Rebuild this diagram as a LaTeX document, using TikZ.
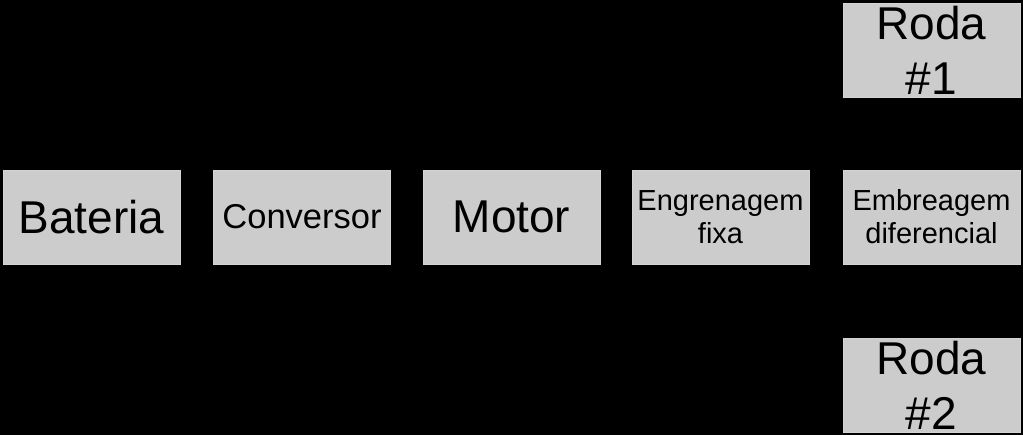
\documentclass[tikz,border=0pt]{standalone}
\usepackage{fontspec}
\setmainfont{Liberation Sans}
\begin{document}
\begin{tikzpicture}[x=1pt,y=-1pt,
  blk/.style={fill=boxgray,draw=boxedge,line width=0.8pt,minimum width=177pt,minimum height=94pt,inner sep=0pt,align=center,text=black},
  big/.style={font=\fontsize{46}{55}\selectfont},
  mid/.style={font=\fontsize{34.5}{40}\selectfont},
  small/.style={font=\fontsize{29}{33}\selectfont}]
\definecolor{boxgray}{HTML}{CCCCCC}
\definecolor{boxedge}{HTML}{D4D4D4}
\fill[black] (0,0) rectangle (1023,435);
\useasboundingbox (0,0) rectangle (1023,435);
\node[blk,big] (bat) at (91.5,217) {Bateria};
\node[blk,mid] (conv) at (302,217) {Conversor};
\node[blk,big] (mot) at (511.5,217) {Motor};
\node[blk,small] (eng) at (720.5,217) {Engrenagem\\fixa};
\node[blk,small] (emb) at (931.5,217) {Embreagem\\diferencial};
\node[blk,big] (r1) at (931.5,50) {Roda\\\#1};
\node[blk,big] (r2) at (931.5,385) {Roda\\\#2};
\end{tikzpicture}
\end{document}
